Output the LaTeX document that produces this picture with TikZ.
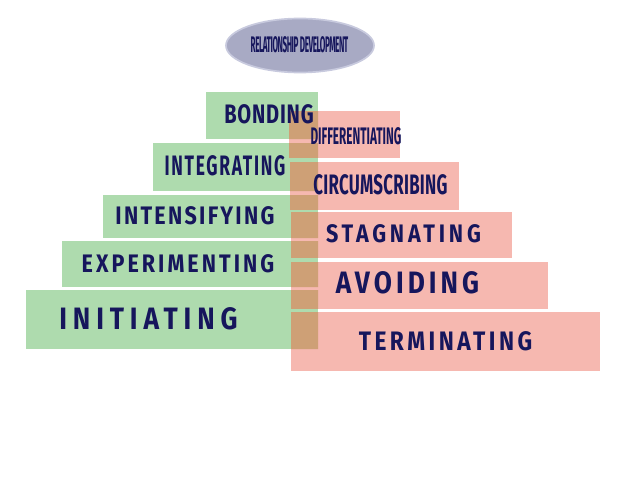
\documentclass[tikz,border=0pt]{standalone}
\usepackage{fontspec}
\usepackage{tikz}
\usetikzlibrary{shapes.geometric}
\newfontfamily\stagefont{Fira Sans}

\definecolor{navy}{RGB}{22,22,92}
\definecolor{stepgreen}{RGB}{174,219,174}
\definecolor{steppink}{RGB}{246,184,176}
\definecolor{stepmix}{RGB}{206,160,118}
\definecolor{titlegray}{RGB}{168,170,196}
\definecolor{titleedge}{RGB}{200,202,222}

\tikzset{
  stage/.style n args={3}{text=navy, inner sep=0pt,
    font=\stagefont\bfseries\fontsize{#1}{#1}\selectfont\addfontfeatures{FakeStretch=#2,LetterSpace=#3}},
  greenbox/.style={fill=stepgreen},
  pinkbox/.style={fill=steppink}
}

\begin{document}
\begin{tikzpicture}[x=0.025cm, y=-0.025cm]
\useasboundingbox (0,0) rectangle (640,480);

% title
\node[ellipse, fill=titlegray, draw=titleedge, line width=1.2pt,
  minimum width=3.7cm, minimum height=1.35cm, inner sep=0pt] (title) at (300,45.5) {};
\node[stage={16}{0.36}{-2}] (titletext) at (299.5,45) {RELATIONSHIP DEVELOPMENT};

% coming together
\fill[greenbox] (206,92) rectangle (318,139);
\fill[greenbox] (153,143) rectangle (318,191);
\fill[greenbox] (103,195) rectangle (318,238);
\fill[greenbox] (62,241) rectangle (318,287);
\fill[greenbox] (26,290) rectangle (318,349);

% coming apart
\fill[pinkbox] (289,111) rectangle (400,158);
\fill[pinkbox] (290,162) rectangle (459,210);
\fill[pinkbox] (291,212) rectangle (512,258);
\fill[pinkbox] (291,262) rectangle (548,309);
\fill[pinkbox] (291,312) rectangle (600,371);

% where both overlap
\begin{scope}
\clip (206,92) rectangle (318,139) (153,143) rectangle (318,191)
  (103,195) rectangle (318,238) (62,241) rectangle (318,287)
  (26,290) rectangle (318,349);
\fill[stepmix] (289,111) rectangle (400,158);
\fill[stepmix] (290,162) rectangle (459,210);
\fill[stepmix] (291,212) rectangle (512,258);
\fill[stepmix] (291,262) rectangle (548,309);
\fill[stepmix] (291,312) rectangle (600,371);
\end{scope}

\node[stage={19}{0.75}{3}] (bonding) at (269,114) {BONDING};
\node[stage={17}{0.49}{0}] (differentiating) at (356,136) {DIFFERENTIATING};
\node[stage={20}{0.62}{6}] (integrating) at (225,166) {INTEGRATING};
\node[stage={20}{0.6}{1}] (circumscribing) at (380.5,184.5) {CIRCUMSCRIBING};
\node[stage={18}{0.85}{9}] (intensifying) at (195,215.5) {INTENSIFYING};
\node[stage={18}{0.85}{12}] (experimenting) at (178,264) {EXPERIMENTING};
\node[stage={22}{0.85}{19}] (initiating) at (148.5,319) {INITIATING};
\node[stage={18}{0.85}{15}] (stagnating) at (403.5,234) {STAGNATING};
\node[stage={22}{0.85}{13}] (avoiding) at (407.5,282.5) {AVOIDING};
\node[stage={19}{0.85}{13}] (terminating) at (445.5,341) {TERMINATING};
\end{tikzpicture}
\end{document}
